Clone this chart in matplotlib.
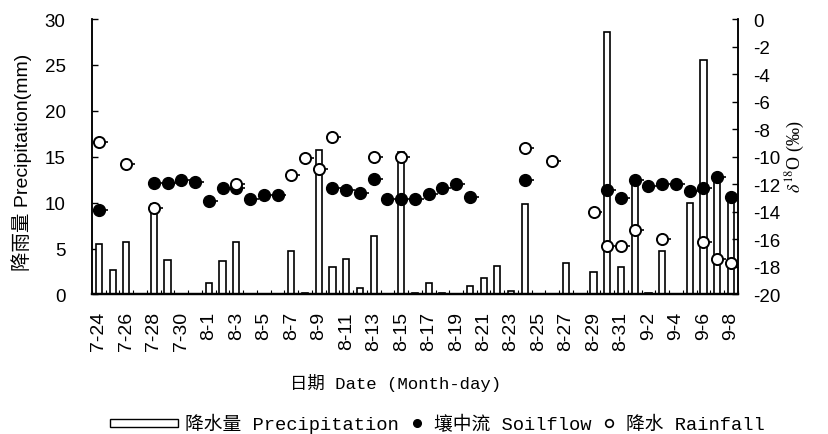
import numpy as np
import matplotlib
matplotlib.use("Agg")
import matplotlib.pyplot as plt
from matplotlib.patches import Rectangle, Patch
from matplotlib.lines import Line2D
from matplotlib.legend_handler import HandlerPatch

plt.rcParams['font.family'] = ['Liberation Sans', 'Noto Sans CJK SC']
plt.rcParams['mathtext.fontset'] = 'stix'
plt.rcParams['axes.unicode_minus'] = False

nan = np.nan

# ── Données ─────────────────────────────────────────────────────────────────
dates = ['7-24', '7-25', '7-26', '7-27', '7-28', '7-29', '7-30', '7-31',
         '8-1', '8-2', '8-3', '8-4', '8-5', '8-6', '8-7', '8-8', '8-9',
         '8-10', '8-11', '8-12', '8-13', '8-14', '8-15', '8-16', '8-17',
         '8-18', '8-19', '8-20', '8-21', '8-22', '8-23', '8-24', '8-25',
         '8-26', '8-27', '8-28', '8-29', '8-30', '8-31',
         '9-1', '9-2', '9-3', '9-4', '9-5', '9-6', '9-7', '9-8']

precip = [5.5, 2.7, 5.7, 0, 9.9, 3.8, 0, 0,
          1.3, 3.6, 5.7, 0, 0, 0, 4.7, 0.2, 15.7,
          3.0, 3.9, 0.7, 6.4, 0.1, 15.5, 0.2, 1.2,
          0.2, 0, 0.9, 1.8, 3.1, 0.35, 9.9, 0,
          0, 3.4, 0, 2.5, 28.6, 3.0,
          12.3, 0.2, 4.7, 0, 10.0, 25.5, 12.5, 10.5]

soilflow = [-13.9, nan, nan, nan, -11.9, -11.9, -11.7, -11.8,
            -13.2, -12.3, -12.3, -13.1, -12.8, -12.8, nan, nan, nan,
            -12.3, -12.4, -12.6, -11.6, -13.1, -13.1, -13.1, -12.7,
            -12.3, -12.0, -12.9, nan, nan, nan, -11.7, nan,
            nan, nan, nan, nan, -12.4, -13.0,
            -11.7, -12.1, -12.0, -12.0, -12.5, -12.3, -11.5, -12.9]

rainfall = [-8.9, nan, -10.5, nan, -13.7, nan, nan, nan,
            nan, nan, -12.0, nan, nan, nan, -11.3, -10.1, -10.9,
            -8.6, nan, nan, -10.0, nan, -10.0, nan, nan,
            nan, nan, nan, nan, nan, nan, -9.4, nan,
            -10.3, nan, nan, -14.0, -16.5, -16.5,
            -15.3, nan, -16.0, nan, nan, -16.2, -17.4, -17.7]

x = np.arange(len(dates))
soilflow = np.array(soilflow)
rainfall = np.array(rainfall)

# ── Figure ──────────────────────────────────────────────────────────────────
fig = plt.figure(figsize=(8.29, 4.35), dpi=100)
ax = fig.add_axes([0.111, 0.3207, 0.779, 0.6333])
ax2 = ax.twinx()

ax.bar(x, precip, width=0.45, facecolor='white', edgecolor='black',
       linewidth=1.2, zorder=2)
ax.set_xlim(-0.5, len(dates) - 0.5)
ax.set_ylim(0, 30)
ax.set_yticks(range(0, 31, 5))
ax.set_xticks(x[::2])
ax.set_xticklabels(dates[::2], rotation=90, fontsize=14)
ax.set_xticks(np.arange(-0.5, len(dates), 1), minor=True)
ax.tick_params(axis='x', which='major', length=0, pad=12)
ax.tick_params(axis='x', which='minor', direction='in', length=3, width=0.8)
ax.tick_params(axis='y', direction='in', length=4, width=1, labelsize=13.5,
               pad=19)

def tails(vals):
    m = ~np.isnan(vals)
    n = m.sum()
    ax2.errorbar(x[m], vals[m], xerr=[np.zeros(n), np.full(n, 0.65)],
                 fmt='none', ecolor='black', elinewidth=1.2, capsize=0,
                 zorder=3)

tails(soilflow)
tails(rainfall)
ax2.plot(x, soilflow, 'o', ms=8.5, mfc='black', mec='black', mew=1,
         ls='none', zorder=4)
ax2.plot(x, rainfall, 'o', ms=8, mfc='white', mec='black', mew=1.4,
         ls='none', zorder=5)
ax2.set_ylim(-20, 0)
ax2.set_yticks(range(-20, 1, 2))
ax2.tick_params(axis='y', direction='in', length=4, width=1, labelsize=13.5,
                pad=11)

for a in (ax, ax2):
    a.spines['top'].set_visible(False)
    for s in ('left', 'right'):
        a.spines[s].set_linewidth(1.1)
    a.spines['bottom'].set_linewidth(1.6)

fig.text(0.026, 0.627, '降雨量 Precipitation(mm)', rotation=90,
         ha='center', va='center', fontsize=14)
fig.text(0.959, 0.64, r'$\delta^{18}$O (‰)', rotation=90,
         ha='center', va='center', fontsize=13,
         family=['Liberation Serif', 'DejaVu Sans'])
fig.text(0.477, 0.12, '日期 Date (Month-day)', ha='center', va='center',
         fontsize=12.5, family=['Liberation Mono', 'Noto Sans CJK SC'])

# Légende : rectangle large pour la pluie
def wide_rect(legend, orig_handle, xdescent, ydescent, width, height, fontsize):
    extra = 2.6 * width
    return Rectangle((-xdescent - extra, -ydescent + 0.15 * height),
                     width + extra, 0.6 * height,
                     facecolor='white', edgecolor='black', linewidth=1.1)

handles = [Patch(facecolor='white', edgecolor='black'),
           Line2D([], [], marker='o', ls='none', ms=5.5, mfc='black', mec='black'),
           Line2D([], [], marker='o', ls='none', ms=5.5, mfc='white', mec='black',
                  mew=1.2)]
labels = ['降水量 Precipitation', '壤中流 Soilflow', '降水 Rainfall']
fig.legend(handles, labels, loc='center', bbox_to_anchor=(0.557, 0.025),
           ncol=3, frameon=False, handlelength=1.0, handletextpad=0.4,
           columnspacing=0.45, borderaxespad=0,
           prop={'family': ['Liberation Mono', 'Noto Sans CJK SC'], 'size': 13.5},
           handler_map={Patch: HandlerPatch(patch_func=wide_rect)})

fig.savefig('out.png', dpi=100)
